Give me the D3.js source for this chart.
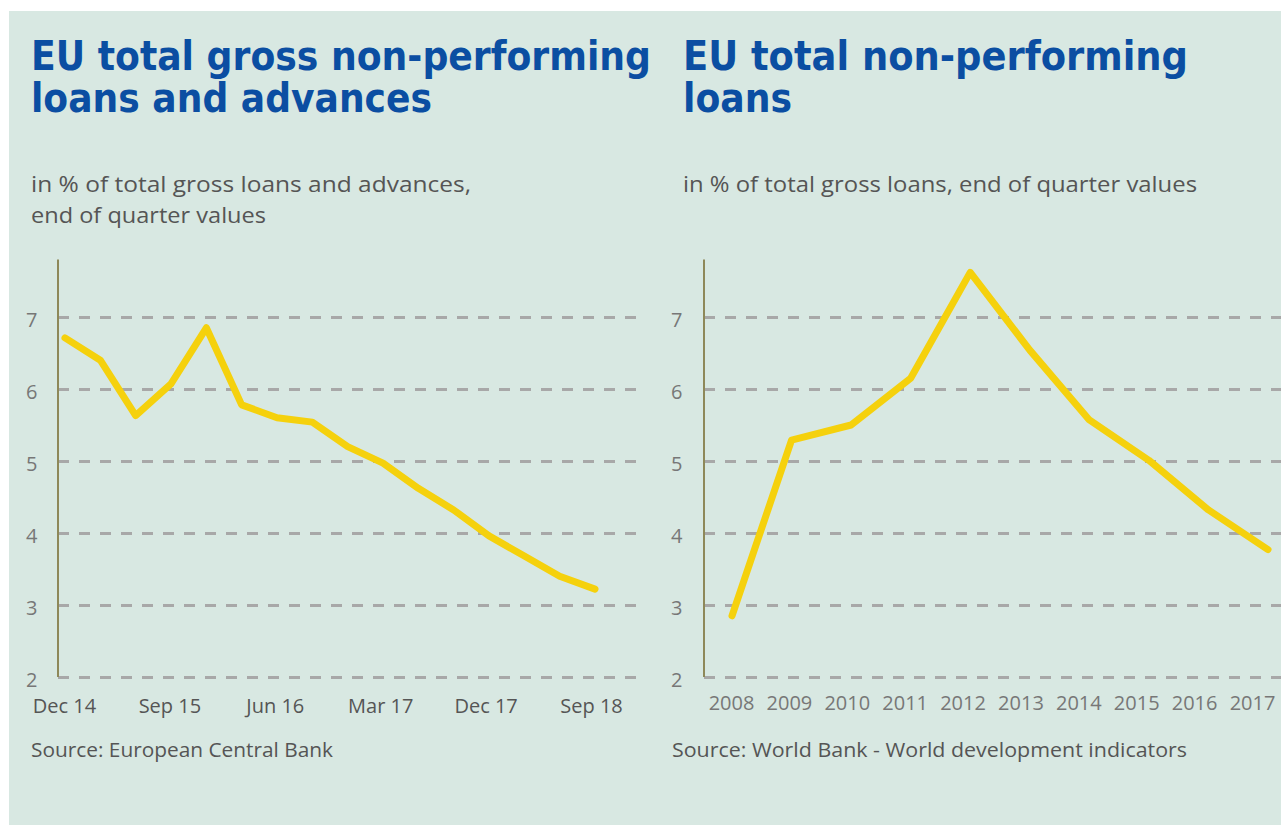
<!DOCTYPE html>
<html>
<head>
	<meta charset="utf-8">
	<title>EU non-performing loans</title>
	<script src="https://cdn.jsdelivr.net/npm/d3@7"></script>
	<style>
		body { margin: 0; background: #ffffff; }
		svg { display: block; }
	</style>
</head>
<body>
	<script type="text/javascript">

		// left chart: quarterly NPL ratio (ECB)
		var quarters = ["Dec 14", "Mar 15", "Jun 15", "Sep 15", "Dec 15", "Mar 16", "Jun 16", "Sep 16",
			"Dec 16", "Mar 17", "Jun 17", "Sep 17", "Dec 17", "Mar 18", "Jun 18", "Sep 18"];
		var quarterValues = [6.71, 6.40, 5.63, 6.07, 6.85, 5.78, 5.60, 5.54,
			5.20, 4.97, 4.62, 4.32, 3.96, 3.68, 3.40, 3.22];
		var quarterTicks = ["Dec 14", "Sep 15", "Jun 16", "Mar 17", "Dec 17", "Sep 18"];

		// right chart: yearly NPL ratio (World Bank)
		var years = ["2008", "2009", "2010", "2011", "2012", "2013", "2014", "2015", "2016", "2017"];
		var yearValues = [2.85, 5.29, 5.50, 6.15, 7.62, 6.54, 5.57, 5.01, 4.32, 3.77];

		var yTicks = [2, 3, 4, 5, 6, 7];

		var width = 1281;
		var height = 825;
		var blue = "#0b4ea2";
		var yellow = "#f5d10d";

		var svg = d3.select("body").append("svg")
			.attr("width", width)
			.attr("height", height);

		svg.append("rect")
			.attr("x", 9)
			.attr("y", 11)
			.attr("width", width - 9)
			.attr("height", height - 11)
			.attr("fill", "#d8e8e2");

		var yScale = d3.scaleLinear()
			.domain([2, 7.8])
			.range([677, 259.4]);

		function drawPanel(p) {
			var g = svg.append("g");

			// title, two lines
			p.title.forEach(function (t, i) {
				g.append("text")
					.attr("x", p.textX)
					.attr("y", 70 + i * 42)
					.attr("font-family", "'DejaVu Sans Condensed', 'DejaVu Sans', sans-serif")
					.attr("font-weight", "bold")
					.attr("font-size", 41)
					.attr("fill", blue)
					.attr("textLength", t.w)
					.attr("lengthAdjust", "spacingAndGlyphs")
					.text(t.s);
			});

			p.subtitle.forEach(function (t, i) {
				g.append("text")
					.attr("x", p.textX)
					.attr("y", 192 + i * 31)
					.attr("font-family", "'Open Sans', sans-serif")
					.attr("font-size", 22)
					.attr("fill", "#555")
					.attr("textLength", t.w)
					.attr("lengthAdjust", "spacingAndGlyphs")
					.text(t.s);
			});

			// y axis with dashed grid
			var yAxis = d3.axisLeft(yScale)
				.tickValues(yTicks)
				.tickFormat(d3.format("d"))
				.tickSize(-(p.gridEnd - p.axisX))
				.tickPadding(p.axisX - p.yLabelX - 10);

			var ya = g.append("g")
				.attr("transform", "translate(" + p.axisX + ",0)")
				.call(yAxis);
			ya.select(".domain").remove();
			ya.selectAll(".tick line")
				.attr("stroke", "#a8a8a8")
				.attr("stroke-width", 3)
				.attr("stroke-dasharray", "11,10");
			ya.selectAll(".tick text")
				.attr("font-family", "'Open Sans', sans-serif")
				.attr("font-size", 20)
				.attr("fill", "#777")
				.attr("text-anchor", "start")
				.attr("x", p.yLabelX - p.axisX)
				.attr("dy", "0.45em");

			// vertical axis line
			g.append("line")
				.attr("x1", p.axisX).attr("x2", p.axisX)
				.attr("y1", yScale(7.8)).attr("y2", yScale(2))
				.attr("stroke", "#8e8859")
				.attr("stroke-width", 2);

			// x labels
			var xAxis = d3.axisBottom(p.labelScale)
				.tickValues(p.tickValues)
				.tickSize(0)
				.tickPadding(0);
			var xa = g.append("g")
				.attr("transform", "translate(0," + p.labelY + ")")
				.call(xAxis);
			xa.select(".domain").remove();
			xa.selectAll(".tick text")
				.attr("font-family", "'Open Sans', sans-serif")
				.attr("font-size", 20)
				.attr("fill", p.labelColor)
				.attr("dy", 0);

			// the line
			var line = d3.line()
				.x(function (d, i) { return p.xScale(p.cats[i]); })
				.y(function (d) { return yScale(d); });

			g.append("path")
				.datum(p.values)
				.attr("d", line)
				.attr("fill", "none")
				.attr("stroke", yellow)
				.attr("stroke-width", 7)
				.attr("stroke-linejoin", "round")
				.attr("stroke-linecap", "round");

			g.append("text")
				.attr("x", p.sourceX)
				.attr("y", 757)
				.attr("font-family", "'Open Sans', sans-serif")
				.attr("font-size", 20)
				.attr("fill", "#555")
				.attr("textLength", p.source.w)
				.attr("lengthAdjust", "spacingAndGlyphs")
				.text(p.source.s);
		}

		var qScale = d3.scalePoint().domain(quarters).range([65, 595]);
		var qLabelScale = d3.scalePoint().domain(quarters).range([64, 591]);

		drawPanel({
			textX: 31,
			title: [{ s: "EU total gross non-performing", w: 620 }, { s: "loans and advances", w: 401 }],
			subtitle: [{ s: "in % of total gross loans and advances,", w: 440 }, { s: "end of quarter values", w: 235 }],
			axisX: 58,
			gridEnd: 637,
			yLabelX: 26,
			xScale: qScale,
			labelScale: qLabelScale,
			cats: quarters,
			values: quarterValues,
			tickValues: quarterTicks,
			labelY: 713,
			labelColor: "#555",
			sourceX: 31,
			source: { s: "Source: European Central Bank", w: 302 }
		});

		var yrScale = d3.scalePoint().domain(years).range([732, 1268]);
		var yrLabelScale = d3.scalePoint().domain(years).range([731, 1252]);

		drawPanel({
			textX: 683,
			title: [{ s: "EU total non-performing", w: 505 }, { s: "loans", w: 109 }],
			subtitle: [{ s: "in % of total gross loans, end of quarter values", w: 514 }],
			axisX: 704,
			gridEnd: 1281,
			yLabelX: 671,
			xScale: yrScale,
			labelScale: yrLabelScale,
			cats: years,
			values: yearValues,
			tickValues: years,
			labelY: 710,
			labelColor: "#777",
			sourceX: 672,
			source: { s: "Source: World Bank - World development indicators", w: 515 }
		});

	</script>
</body>
</html>
